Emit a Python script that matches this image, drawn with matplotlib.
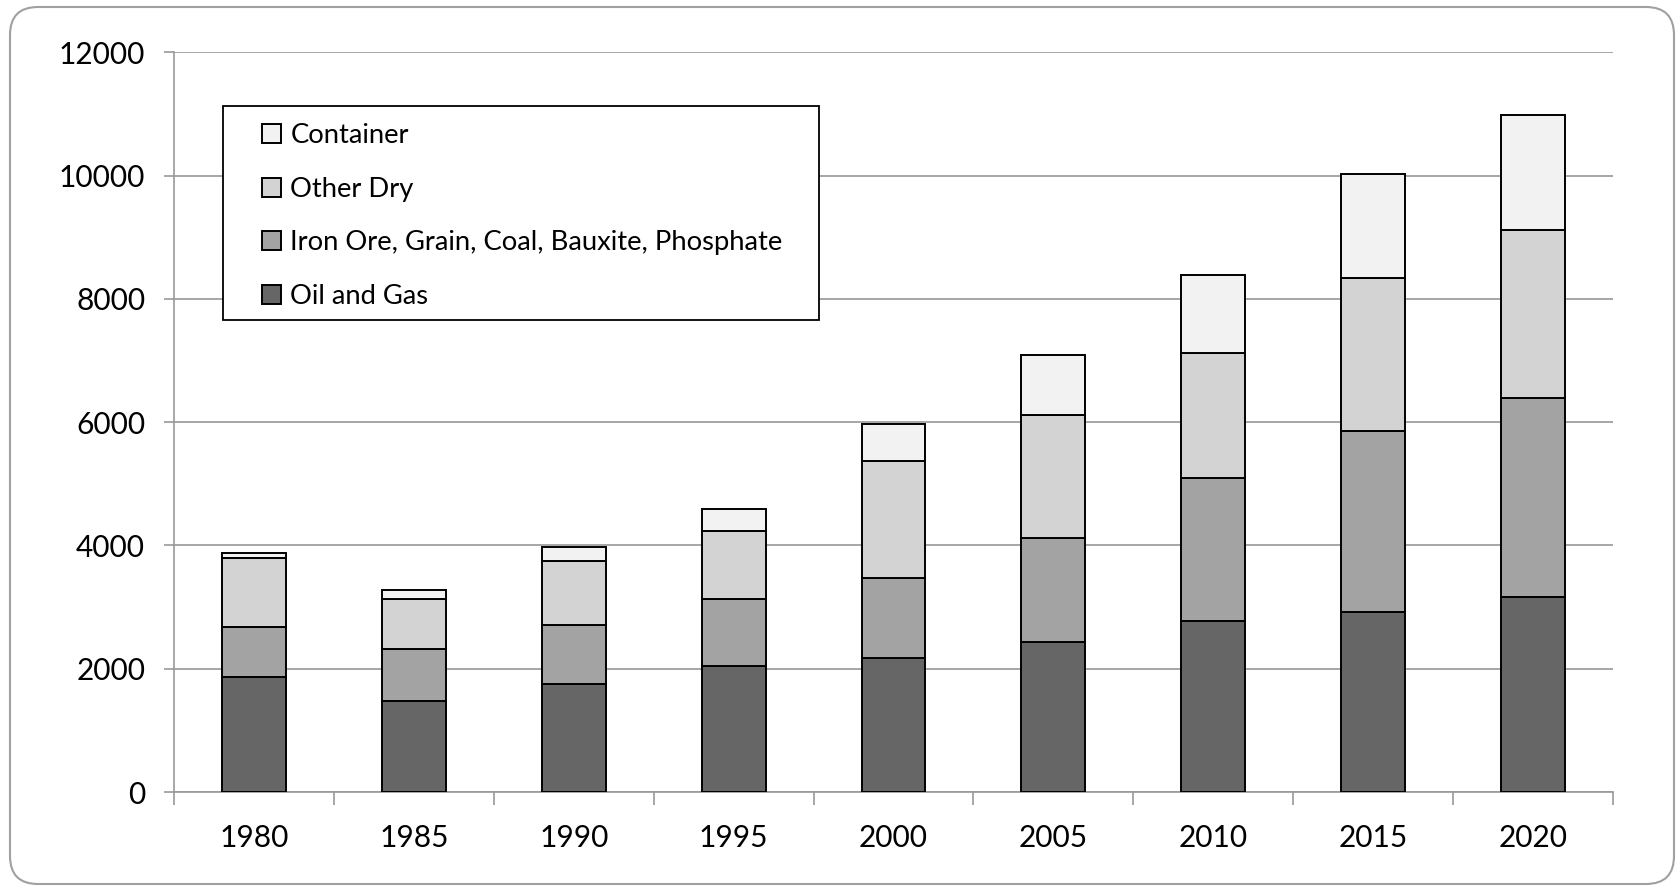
import numpy as np
import matplotlib
matplotlib.use('Agg')
import matplotlib.pyplot as plt
from matplotlib.patches import FancyBboxPatch, Rectangle
from matplotlib.ticker import FixedLocator

plt.rcParams['font.family'] = ['Lato', 'DejaVu Sans']

years = ['1980', '1985', '1990', '1995', '2000', '2005', '2010', '2015', '2020']

# stacked segments, bottom to top
oil_gas = [1870, 1480, 1750, 2040, 2170, 2440, 2770, 2920, 3170]
iron_grain = [810, 840, 955, 1090, 1305, 1685, 2330, 2930, 3220]
other_dry = [1110, 815, 1050, 1110, 1895, 2000, 2030, 2490, 2730]
container = [90, 145, 220, 360, 600, 960, 1260, 1685, 1870]

series = [
    ('Oil and Gas', oil_gas, '#666666'),
    ('Iron Ore, Grain, Coal, Bauxite, Phosphate', iron_grain, '#a3a3a3'),
    ('Other Dry', other_dry, '#d3d3d3'),
    ('Container', container, '#f2f2f2'),
]

fig = plt.figure(figsize=(16.78, 8.9), dpi=100)
ax = fig.add_axes([0.1039, 0.1101, 0.8572, 0.831])

x = np.arange(len(years))
bottom = np.zeros(len(years))
for name, vals, color in series:
    ax.bar(x, vals, width=0.4, bottom=bottom, color=color,
           edgecolor='black', linewidth=1.4, label=name, zorder=3)
    bottom += np.array(vals)

ax.set_xlim(-0.5, len(years) - 0.5)
ax.set_ylim(0, 12000)
ax.set_yticks(np.arange(0, 12001, 2000))
ax.yaxis.grid(True, color='#a6a6a6', linewidth=1.4, zorder=0)

ax.set_xticks(x)
ax.set_xticklabels(years)
ax.xaxis.set_minor_locator(FixedLocator(np.arange(-0.5, len(years), 1.0)))
ax.tick_params(axis='x', which='major', length=0, pad=23, labelsize=21.5)
ax.tick_params(axis='x', which='minor', length=9, width=1.2, color='#999999')
ax.tick_params(axis='y', length=7, width=1.2, color='#999999', pad=14,
               labelsize=21.5)

for side in ['top', 'right']:
    ax.spines[side].set_visible(False)
for side in ['left', 'bottom']:
    ax.spines[side].set_color('#999999')
    ax.spines[side].set_linewidth(1.2)

# legend box drawn separately so the entries can sit inside with wide margins
box = Rectangle((0.0335, 0.638), 0.4145, 0.2895, transform=ax.transAxes,
                facecolor='white', edgecolor='black', linewidth=1.3, zorder=4)
ax.add_patch(box)

handles, labels = ax.get_legend_handles_labels()
leg = ax.legend(handles[::-1], labels[::-1], loc='upper left',
                bbox_to_anchor=(0.061, 0.904), fontsize=19.7, frameon=False,
                handlelength=0.7, handleheight=0.7, handletextpad=0.33,
                labelspacing=1.04, borderpad=0, borderaxespad=0)
leg.set_zorder(5)

# rounded frame round the whole chart
frame = FancyBboxPatch((10, 6), 1664, 877, boxstyle='round,pad=0,rounding_size=28',
                       transform=None, facecolor='none', edgecolor='#a0a0a0',
                       linewidth=1.5)
fig.patches.append(frame)

fig.savefig('out.png', dpi=100)
